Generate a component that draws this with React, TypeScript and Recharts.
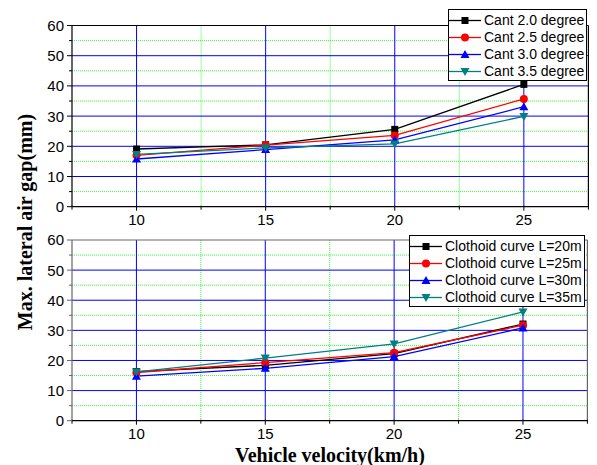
import React from 'react';
import { LineChart, Line, XAxis, YAxis, CartesianGrid, ReferenceLine, Legend } from 'recharts';

const velocity = [10, 15, 20, 25];

const cant20 = [19.1, 20.5, 25.6, 40.5];
const cant25 = [17.0, 20.4, 23.6, 35.7];
const cant30 = [15.8, 18.9, 22.1, 33.1];
const cant35 = [17.3, 19.5, 20.8, 29.9];

const clothoid20 = [16.3, 18.4, 22.3, 32.1];
const clothoid25 = [16.0, 19.3, 22.6, 31.7];
const clothoid30 = [14.8, 17.4, 21.3, 30.8];
const clothoid35 = [16.2, 20.8, 25.5, 36.1];

const topNames = ['Cant 2.0 degree', 'Cant 2.5 degree', 'Cant 3.0 degree', 'Cant 3.5 degree'];
const bottomNames = ['Clothoid curve L=20m', 'Clothoid curve L=25m', 'Clothoid curve L=30m', 'Clothoid curve L=35m'];

const yTicks = [0, 5, 10, 15, 20, 25, 30, 35, 40, 45, 50, 55, 60];
const xTicks = [7.5, 10, 12.5, 15, 17.5, 20, 22.5, 25, 27.5];
const majorY = [10, 20, 30, 40, 50];
const minorY = [5, 15, 25, 35, 45, 55];
const majorX = [10, 15, 20, 25];
const minorX = [12.5, 17.5, 22.5];

const COLORS = ['#000000', '#ff0000', '#0000ff', '#008080'];
const SHAPES = ['square', 'circle', 'up', 'down'];

const topData = velocity.map((v, i) => ({ v, s0: cant20[i], s1: cant25[i], s2: cant30[i], s3: cant35[i] }));
const bottomData = velocity.map((v, i) => ({ v, s0: clothoid20[i], s1: clothoid25[i], s2: clothoid30[i], s3: clothoid35[i] }));

const SANS = '"Liberation Sans", Arial, sans-serif';
const SERIF = '"Liberation Serif", "Times New Roman", serif';
const TS = 5;
const TM = 3;

function Marker({ cx, cy, shape, color }: any) {
  if (cx == null || cy == null) return null;
  if (shape === 'square') return <rect x={cx - 3.5} y={cy - 3.5} width={7} height={7} fill={color} />;
  if (shape === 'circle') return <circle cx={cx} cy={cy} r={4} fill={color} />;
  if (shape === 'up') return <polygon points={`${cx},${cy - 4.5} ${cx - 4.5},${cy + 3.5} ${cx + 4.5},${cy + 3.5}`} fill={color} />;
  return <polygon points={`${cx},${cy + 4.5} ${cx - 4.5},${cy - 3.5} ${cx + 4.5},${cy - 3.5}`} fill={color} />;
}

const makeYTick = (color: string) => (props: any) => {
  const { x, y, payload } = props;
  const v = payload.value;
  const major = v % 10 === 0;
  const ax = x + TS + TM;
  return (
    <g>
      <line x1={ax - (major ? 5 : 3)} x2={ax} y1={y} y2={y} stroke={color} strokeWidth={1} />
      {major && (
        <text x={x} y={y} dy="0.36em" textAnchor="end" fontFamily={SANS} fontSize={15} fill="#000">
          {v}
        </text>
      )}
    </g>
  );
};

const XTick = (props: any) => {
  const { x, y, payload } = props;
  const v = payload.value;
  const major = Number.isInteger(v);
  const ay = y - TS - TM - 1;
  return (
    <g>
      <line x1={x} x2={x} y1={ay} y2={ay + (major ? 5 : 4)} stroke="#000" strokeWidth={1} />
      {major && (
        <text x={x} y={y} dy="0.71em" textAnchor="middle" fontFamily={SANS} fontSize={15} fill="#000">
          {v}
        </text>
      )}
    </g>
  );
};

const makeLegend = (names: string[]) => () => (
  <div
    style={{
      border: '1px solid #000',
      background: '#fff',
      paddingTop: 1.5,
      paddingRight: 2,
      fontFamily: SANS,
      fontSize: 14,
      lineHeight: '17px',
      whiteSpace: 'nowrap',
    }}
  >
    {names.map((n, i) => (
      <div key={n} style={{ display: 'flex', alignItems: 'center', height: 17 }}>
        <svg width={32} height={17} style={{ display: 'block', marginRight: 3 }}>
          <line x1={0} x2={32} y1={8.5} y2={8.5} stroke={COLORS[i]} strokeWidth={1.3} />
          <Marker cx={16} cy={8.5} shape={SHAPES[i]} color={COLORS[i]} />
        </svg>
        <span style={{ color: '#000' }}>{n}</span>
      </div>
    ))}
  </div>
);

function Panel({ data, names, height, margin, frame, legendPos }: any) {
  return (
    <LineChart width={597} height={height} data={data} margin={margin}>
      <CartesianGrid horizontalValues={minorY} verticalValues={minorX} stroke="#33ff33" strokeDasharray="1 1" strokeWidth={1} />
      <CartesianGrid horizontalValues={majorY} verticalValues={majorX} stroke="#0000ff" strokeWidth={1} />
      <XAxis
        dataKey="v"
        type="number"
        domain={[7.5, 27.5]}
        ticks={xTicks}
        interval={0}
        height={25}
        tickSize={TS}
        tickMargin={TM}
        tickLine={false}
        tick={XTick}
        axisLine={{ stroke: '#000', strokeWidth: 1.2 }}
        allowDataOverflow
      />
      <YAxis
        type="number"
        domain={[0, 60]}
        ticks={yTicks}
        interval={0}
        width={40}
        tickSize={TS}
        tickMargin={TM}
        tickLine={false}
        tick={makeYTick(frame)}
        axisLine={{ stroke: frame, strokeWidth: 1.2 }}
      />
      <ReferenceLine y={60} stroke={frame} strokeWidth={1.2} />
      <ReferenceLine x={27.5} stroke={frame} strokeWidth={1.2} />
      {[0, 1, 2, 3].map((i) => (
        <Line
          key={i}
          dataKey={`s${i}`}
          name={names[i]}
          stroke={COLORS[i]}
          strokeWidth={1.3}
          isAnimationActive={false}
          dot={(p: any) => <Marker key={`d${i}-${p.index}`} cx={p.cx} cy={p.cy} shape={SHAPES[i]} color={COLORS[i]} />}
          activeDot={false}
        />
      ))}
      <Legend
        layout="vertical"
        align="center"
        verticalAlign="middle"
        content={makeLegend(names)}
        wrapperStyle={{ top: legendPos.top, left: legendPos.left, width: 'auto', position: 'absolute' }}
      />
    </LineChart>
  );
}

export default function App() {
  return (
    <div style={{ position: 'absolute', left: 0, top: 0, width: 597, height: 465, background: '#fff' }}>
      <div style={{ position: 'absolute', left: 0, top: 0 }}>
        <Panel
          data={topData}
          names={topNames}
          height={232}
          margin={{ top: 25.5, right: 8.6, bottom: 0.3, left: 32 }}
          frame="#000"
          legendPos={{ top: 9, left: 448 }}
        />
      </div>
      <div style={{ position: 'absolute', left: 0, top: 232 }}>
        <Panel
          data={bottomData}
          names={bottomNames}
          height={233}
          margin={{ top: 8, right: 9.6, bottom: 19.3, left: 32 }}
          frame="#666"
          legendPos={{ top: 3, left: 409 }}
        />
      </div>
      <svg width={597} height={465} style={{ position: 'absolute', left: 0, top: 0, pointerEvents: 'none' }}>
        <text
          x={25}
          y={222}
          transform="rotate(-90 25 222)"
          textAnchor="middle"
          dominantBaseline="central"
          fontFamily={SERIF}
          fontWeight="bold"
          fontSize={20}
          fill="#000"
        >
          Max. lateral air gap(mm)
        </text>
        <text x={330} y={462} textAnchor="middle" fontFamily={SERIF} fontWeight="bold" fontSize={20} fill="#000">
          Vehicle velocity(km/h)
        </text>
      </svg>
    </div>
  );
}
